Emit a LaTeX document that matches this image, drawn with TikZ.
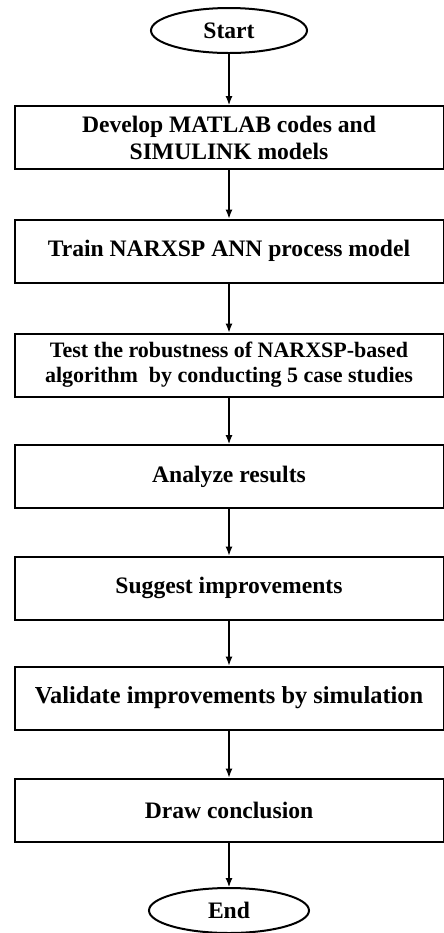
\documentclass[tikz,border=0pt]{standalone}
\usepackage{fontspec}
\setmainfont{Liberation Serif}
\usetikzlibrary{shapes.geometric,arrows.meta}

\tikzset{
  paso/.style={draw, line width=1pt, minimum width=214.5pt, minimum height=31.5pt,
    align=center, inner sep=2pt, font=\bfseries\fontsize{11.8}{13.5}\selectfont},
  terminal/.style={draw, ellipse, line width=1pt, minimum width=78pt, minimum height=22.5pt,
    inner sep=0pt, font=\bfseries\fontsize{11.8}{13.5}\selectfont},
  flecha/.style={-{Latex[length=4.5pt,width=3.5pt]}, line width=0.6pt}
}

\begin{document}
\begin{tikzpicture}[x=0.5pt, y=-0.5pt]
    % Marco del dibujo
    \useasboundingbox (0,0) rectangle (444,933);

    % Inicio y fin
    \node[terminal] (inicio) at (229,30.5) {Start};
    \node[terminal, minimum width=80pt] (fin) at (229,910.5) {End};

    % Pasos
    \node[paso] (p1) at (229,137.5) {Develop MATLAB codes and\\SIMULINK models};
    \node[paso] (p2) at (229,251) {Train NARXSP ANN process model};
    \node[paso, font=\bfseries\fontsize{11}{12.5}\selectfont] (p3) at (229,365)
        {Test the robustness of NARXSP-based\\algorithm\ \ by conducting 5 case studies};
    \node[paso] (p4) at (229,476.5) {Analyze results};
    \node[paso] (p5) at (229,588) {Suggest improvements};
    \node[paso, font=\bfseries\fontsize{12.2}{14}\selectfont] (p6) at (229,698) {Validate improvements by simulation};
    \node[paso] (p7) at (229,810) {Draw conclusion};

    % Flechas
    \foreach \a/\b in {inicio/p1, p1/p2, p2/p3, p3/p4, p4/p5, p5/p6, p6/p7, p7/fin}
        \draw[flecha] (\a) -- (\b);
\end{tikzpicture}
\end{document}
